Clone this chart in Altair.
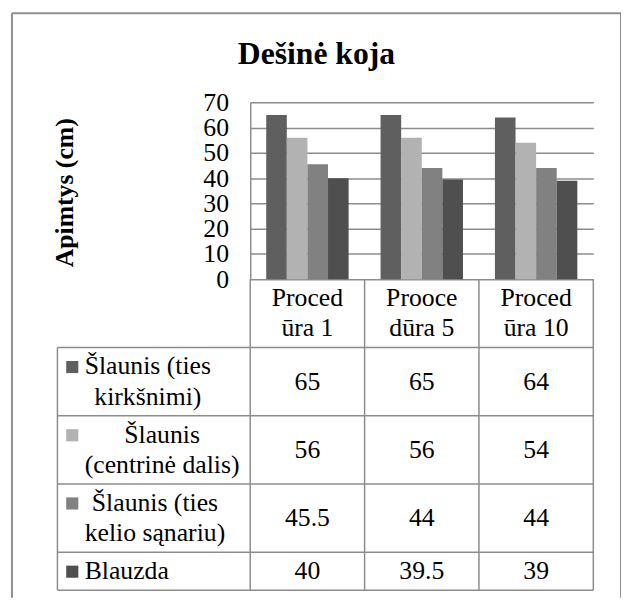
import altair as alt
import pandas as pd

# ---------------- data ----------------
categories = ["Procedūra 1", "Proocedūra 5", "Procedūra 10"]
category_lines = [["Proced", "ūra 1"], ["Prooce", "dūra 5"], ["Proced", "ūra 10"]]
series = [
    "Šlaunis (ties kirkšnimi)",
    "Šlaunis (centrinė dalis)",
    "Šlaunis (ties kelio sąnariu)",
    "Blauzda",
]
series_lines = [
    ["Šlaunis (ties", "kirkšnimi)"],
    ["Šlaunis", "(centrinė dalis)"],
    ["Šlaunis (ties", "kelio sąnariu)"],
    ["Blauzda"],
]
v_kirksnimi = [65, 65, 64]
v_centrine = [56, 56, 54]
v_kelio = [45.5, 44, 44]
v_blauzda = [40, 39.5, 39]
series_values = [v_kirksnimi, v_centrine, v_kelio, v_blauzda]
colors = ["#5f5f5f", "#b2b2b2", "#818181", "#4f4f4f"]
y_ticks = [0, 10, 20, 30, 40, 50, 60, 70]
title_text = "Dešinė koja"
y_title = "Apimtys (cm)"

# ---------------- layout / style ----------------
FONT = "Liberation Serif, Times New Roman, Times, DejaVu Serif, serif"
FS = 26
LH = 30.5
CELL_PAD = 8
LINE = "#8c8c8c"
W, H = 347, 179
PAD_L, PAD_T = 245, 92
TOTAL_W, TOTAL_H = 620, 593
LEG_LEFT = -195
SWATCH_X = -180
LEG_TEXT_LEFT = -167.5

# Times/Liberation Serif advance widths (1/1000 em) for centring wrapped legend lines
TW = {' ': 250, '(': 333, ')': 333, 'a': 444, 'c': 444, 'd': 500, 'e': 444, 'ė': 444,
      'i': 278, 'k': 500, 'l': 278, 'm': 778, 'n': 500, 'o': 500, 'r': 333, 's': 389,
      'š': 389, 't': 278, 'u': 500, 'z': 444, 'ą': 444, 'B': 667, 'Š': 556}


def text_width(s):
    return sum(TW.get(ch, 500) for ch in s) * FS / 1000


# table row heights from number of text lines
row_lines = [max(len(l) for l in category_lines)] + [len(l) for l in series_lines]
row_h = [LH * n + CELL_PAD for n in row_lines]
bounds = [0.0]
for h in row_h:
    bounds.append(bounds[-1] + h)
T = bounds[-1]


def first_line_y(row, nlines):
    # Vega anchors the first line of multi-line text; centre the block in the row
    return bounds[row] + row_h[row] / 2 - (nlines - 1) * LH / 2


xscale = alt.Scale(domain=categories, paddingInner=0, paddingOuter=0)
tscale = alt.Scale(domain=[0, T], range=[H, H + T], nice=False, zero=False)
cscale = alt.Scale(domain=series, range=colors)

# ---------------- frames ----------------
rows = []
for si, s in enumerate(series):
    for ci, c in enumerate(categories):
        v = series_values[si][ci]
        rows.append({
            "category": c, "series": s, "value": v, "label": f"{v:g}",
            "yc": first_line_y(si + 1, 1),
        })
df = pd.DataFrame(rows)

hdf = pd.DataFrame({
    "category": categories,
    "text": ["\n".join(l) for l in category_lines],
    "yc": [first_line_y(0, len(l)) for l in category_lines],
})

ldf = pd.DataFrame({
    "series": series,
    "ys": [bounds[i + 1] + (LH + CELL_PAD) / 2 + 0.5 for i in range(len(series))],
})

vdf = pd.DataFrame({"category": categories, "top": [0.0] * 3, "bottom": [T] * 3})
hline_df = pd.DataFrame({"yb": bounds[1:]})
left_df = pd.DataFrame({"top": [bounds[1]], "bottom": [T]})
one = pd.DataFrame({"a": [0]})

# ---------------- layers ----------------
bars = alt.Chart(df).mark_bar().encode(
    x=alt.X("category:N", sort=categories, scale=xscale, axis=None),
    xOffset=alt.XOffset("series:N", sort=series,
                        scale=alt.Scale(paddingOuter=0.776, paddingInner=0)),
    y=alt.Y("value:Q", scale=alt.Scale(domain=[0, 70], nice=False),
            axis=alt.Axis(values=y_ticks, title=y_title, grid=True, gridColor=LINE,
                          gridWidth=1.5, ticks=False, domain=True, domainColor=LINE,
                          domainWidth=1.5, labelFont=FONT, labelFontSize=FS,
                          labelColor="black", labelPadding=22, labelOverlap=False,
                          titleFont=FONT, titleFontSize=FS, titleFontWeight="bold",
                          titleColor="black", titleX=-180, titleY=91, titleAngle=270,
                          titleAlign="center", titleBaseline="alphabetic")),
    color=alt.Color("series:N", sort=series, scale=cscale, legend=None),
)

header = alt.Chart(hdf).mark_text(
    font=FONT, fontSize=FS, lineBreak="\n", lineHeight=LH, baseline="middle",
    align="center", color="black"
).encode(
    x=alt.X("category:N", sort=categories, scale=xscale, axis=None),
    y=alt.Y("yc:Q", scale=tscale, axis=None),
    text="text:N",
)

cells = alt.Chart(df).mark_text(
    font=FONT, fontSize=FS, baseline="middle", align="center", color="black"
).encode(
    x=alt.X("category:N", sort=categories, scale=xscale, axis=None),
    y=alt.Y("yc:Q", scale=tscale, axis=None),
    text="label:N",
)

swatches = alt.Chart(ldf).mark_square(size=150, opacity=1).encode(
    x=alt.value(SWATCH_X),
    y=alt.Y("ys:Q", scale=tscale, axis=None),
    color=alt.Color("series:N", sort=series, scale=cscale, legend=None),
)

legend_texts = []
for i, lines in enumerate(series_lines):
    wmax = max(text_width(l) for l in lines)
    tdf = pd.DataFrame({"text": ["\n".join(lines)],
                        "yc": [first_line_y(i + 1, len(lines))]})
    legend_texts.append(
        alt.Chart(tdf).mark_text(
            font=FONT, fontSize=FS, lineBreak="\n", lineHeight=LH, baseline="middle",
            align="center", color="black"
        ).encode(
            x=alt.value(LEG_TEXT_LEFT + wmax / 2),
            y=alt.Y("yc:Q", scale=tscale, axis=None),
            text="text:N",
        )
    )

vrules = alt.Chart(vdf).mark_rule(color=LINE, strokeWidth=1.5).encode(
    x=alt.X("category:N", sort=categories, scale=xscale, axis=None, bandPosition=0),
    y=alt.Y("top:Q", scale=tscale, axis=None),
    y2="bottom:Q",
)
vrule_last = alt.Chart(vdf.iloc[[-1]]).mark_rule(color=LINE, strokeWidth=1.5).encode(
    x=alt.X("category:N", sort=categories, scale=xscale, axis=None, bandPosition=1),
    y=alt.Y("top:Q", scale=tscale, axis=None),
    y2="bottom:Q",
)
left_rule = alt.Chart(left_df).mark_rule(color=LINE, strokeWidth=1.5).encode(
    x=alt.value(LEG_LEFT),
    y=alt.Y("top:Q", scale=tscale, axis=None),
    y2="bottom:Q",
)
hrules = alt.Chart(hline_df).mark_rule(color=LINE, strokeWidth=1.5).encode(
    x=alt.value(LEG_LEFT),
    x2=alt.value(W),
    y=alt.Y("yb:Q", scale=tscale, axis=None),
)

FL, FT, FR, FB = 12 - (PAD_L + 8), 10 - (PAD_T + 8), 628 - (PAD_L + 8), TOTAL_H - PAD_T
frame_top = alt.Chart(one).mark_rule(color="#8f8f8f", strokeWidth=2).encode(
    x=alt.value(FL), x2=alt.value(FR), y=alt.value(FT))
frame_left = alt.Chart(one).mark_rule(color="#8f8f8f", strokeWidth=2).encode(
    x=alt.value(FL), y=alt.value(FT), y2=alt.value(FB))
frame_right = alt.Chart(one).mark_rule(color="#8f8f8f", strokeWidth=2).encode(
    x=alt.value(FR), y=alt.value(FT), y2=alt.value(FB))

title = alt.Chart(one).mark_text(
    text=title_text, font=FONT, fontSize=32, fontWeight="bold", color="black",
    align="center", baseline="alphabetic"
).encode(x=alt.value(320 - (PAD_L + 8)), y=alt.value(61 - (PAD_T + 8)))

chart = alt.layer(
    vrules, vrule_last, left_rule, hrules, bars, header, cells, swatches,
    *legend_texts, frame_top, frame_left, frame_right, title
).resolve_scale(y="independent").properties(
    width=W, height=H,
    padding={"left": PAD_L, "top": PAD_T, "right": TOTAL_W - PAD_L - W,
             "bottom": TOTAL_H - PAD_T - H},
    autosize=alt.AutoSizeParams(type="none"),
    background="white",
).configure_view(stroke=None)

chart.save("out.html", embed_options={"renderer": "svg", "actions": False})
